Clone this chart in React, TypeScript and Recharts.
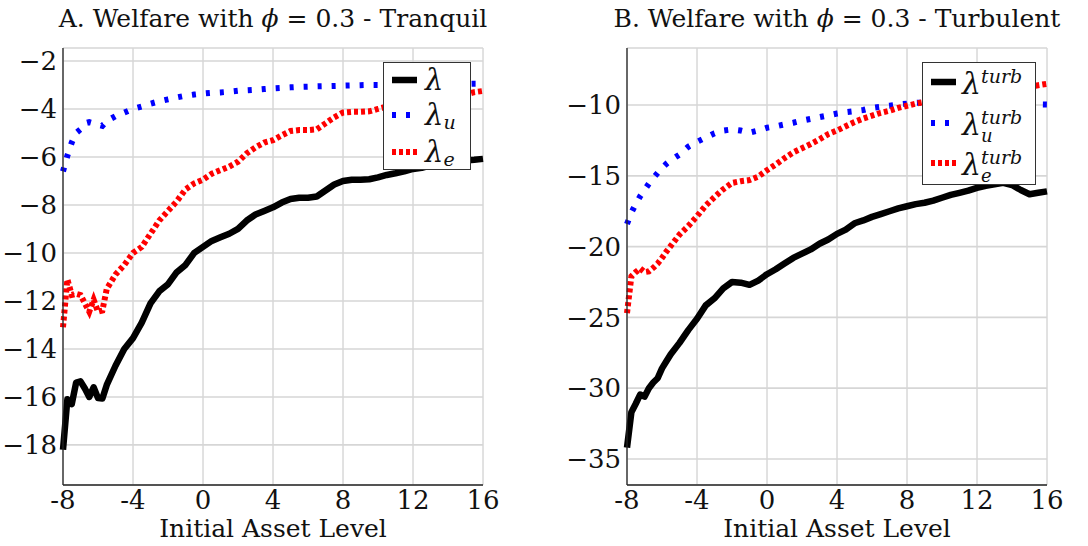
import React from "react";
import { LineChart, Line, XAxis, YAxis, CartesianGrid } from "recharts";

const assetLevels = [
  -8, -7.75, -7.5, -7.25, -7, -6.75, -6.5, -6.25, -6, -5.75, -5.5, -5, -4.5, -4, -3.5, -3, -2.5, -2,
  -1.5, -1, -0.5, 0, 0.5, 1, 1.5, 2, 2.5, 3, 3.5, 4, 4.5, 5, 5.5, 6, 6.5, 7, 7.5, 8, 8.5, 9, 9.5, 10,
  10.5, 11, 11.5, 12, 12.5, 13, 13.5, 14, 14.5, 15, 15.5, 16,
];

// Panel A, tranquil
const tranquilLambda = [
  -18.2, -16.1, -16.3, -15.4, -15.35, -15.65, -16.0, -15.6, -16.05, -16.07, -15.5, -14.7, -14.0, -13.55,
  -12.9, -12.1, -11.6, -11.3, -10.8, -10.5, -10.0, -9.75, -9.5, -9.35, -9.2, -9.0, -8.65, -8.4, -8.25,
  -8.1, -7.9, -7.75, -7.7, -7.7, -7.65, -7.4, -7.15, -7.0, -6.95, -6.95, -6.93, -6.85, -6.75, -6.68,
  -6.6, -6.5, -6.45, -6.35, -6.3, -6.25, -6.2, -6.15, -6.12, -6.08,
];
const tranquilLambdaU = [
  -6.6, -5.95, -5.4, -5.0, -4.85, -4.6, -4.55, -4.6, -4.65, -4.7, -4.5, -4.3, -4.15, -4.0, -3.9, -3.78,
  -3.68, -3.6, -3.52, -3.45, -3.4, -3.36, -3.33, -3.31, -3.28, -3.24, -3.22, -3.2, -3.17, -3.14, -3.12,
  -3.1, -3.08, -3.07, -3.06, -3.05, -3.04, -3.03, -3.02, -3.01, -3.0, -3.0, -3.0, -3.0, -2.99, -2.99,
  -2.98, -2.98, -2.97, -2.97, -2.96, -2.96, -2.95, -2.95,
];
const tranquilLambdaE = [
  -13.1, -11.1, -11.75, -11.7, -11.75, -12.1, -12.45, -11.95, -12.45, -12.4, -11.5, -10.9, -10.5, -10.0,
  -9.75, -9.2, -8.65, -8.25, -7.85, -7.35, -7.1, -6.95, -6.7, -6.55, -6.4, -6.2, -5.85, -5.6, -5.4, -5.3,
  -5.1, -4.92, -4.88, -4.88, -4.85, -4.6, -4.35, -4.15, -4.12, -4.12, -4.1, -4.0, -3.9, -3.85, -3.78,
  -3.7, -3.62, -3.55, -3.5, -3.48, -3.45, -3.4, -3.3, -3.25,
];

// Panel B, turbulent
const turbLambda = [
  -34.2, -31.7, -31.1, -30.45, -30.6, -30.0, -29.6, -29.3, -28.6, -28.1, -27.6, -26.8, -25.9, -25.1,
  -24.15, -23.65, -22.95, -22.5, -22.55, -22.7, -22.4, -21.95, -21.6, -21.2, -20.8, -20.5, -20.2, -19.8,
  -19.5, -19.1, -18.8, -18.35, -18.15, -17.9, -17.7, -17.5, -17.3, -17.15, -17.0, -16.9, -16.75, -16.55,
  -16.35, -16.2, -16.05, -15.85, -15.7, -15.6, -15.5, -15.65, -16.0, -16.3, -16.2, -16.1,
];
const turbLambdaU = [
  -18.4, -17.6, -17.0, -16.45, -16.0, -15.55, -15.15, -14.8, -14.45, -14.15, -13.9, -13.5, -12.95, -12.6,
  -12.3, -12.0, -11.8, -11.72, -11.8, -11.95, -11.8, -11.6, -11.5, -11.37, -11.25, -11.1, -10.98, -10.85,
  -10.73, -10.6, -10.5, -10.43, -10.35, -10.2, -10.12, -10.05, -9.97, -9.9, -9.85, -9.82, -9.82, -9.83,
  -9.85, -9.85, -9.86, -9.88, -9.9, -9.9, -9.92, -9.93, -9.94, -9.95, -9.96, -9.97,
];
const turbLambdaE = [
  -24.7, -22.1, -21.8, -21.55, -21.8, -21.75, -21.5, -21.2, -20.8, -20.35, -19.95, -19.15, -18.55, -17.85,
  -17.1, -16.5, -15.95, -15.5, -15.38, -15.3, -15.05, -14.6, -14.2, -13.75, -13.35, -13.05, -12.75,
  -12.42, -12.05, -11.8, -11.5, -11.2, -10.95, -10.75, -10.55, -10.4, -10.2, -10.05, -9.9, -9.78, -9.65,
  -9.55, -9.45, -9.35, -9.25, -9.18, -9.1, -9.02, -8.95, -8.88, -8.8, -8.7, -8.6, -8.5,
];

const xTicks = [-8, -4, 0, 4, 8, 12, 16];
const tranquilYTicks = [-18, -16, -14, -12, -10, -8, -6, -4, -2];
const turbYTicks = [-35, -30, -25, -20, -15, -10];

const FONT = '"DejaVu Serif", "Liberation Serif", serif';
const INK = "#111";

const makeRows = (a: number[], u: number[], e: number[]) =>
  assetLevels.map((x, i) => ({ x, lambda: a[i], lambdaU: u[i], lambdaE: e[i] }));

const tranquilRows = makeRows(tranquilLambda, tranquilLambdaU, tranquilLambdaE);
const turbRows = makeRows(turbLambda, turbLambdaU, turbLambdaE);

const minus = (v: number) => (v < 0 ? `\u2212${Math.abs(v)}` : `${v}`);

function Sample({ y, kind }: { y: number; kind: string }) {
  if (kind === "solid") return <line x1={9} x2={34} y1={y} y2={y} stroke="#000" strokeWidth={6.5} />;
  if (kind === "u")
    return <line x1={9} x2={34} y1={y} y2={y} stroke="#0000ff" strokeWidth={6} strokeDasharray="4 10" />;
  return <line x1={9} x2={34} y1={y} y2={y} stroke="#ff0000" strokeWidth={6} strokeDasharray="4 3" />;
}

function TranquilLegend() {
  const rows = [
    { c: 18, kind: "solid", sub: "" },
    { c: 53, kind: "u", sub: "u" },
    { c: 90, kind: "e", sub: "e" },
  ];
  return (
    <svg width={89} height={109} style={{ position: "absolute", left: 383, top: 62 }}>
      <rect x={0.5} y={0.5} width={87} height={107} fill="#fff" stroke="#333" strokeWidth={1} />
      {rows.map((r) => (
        <g key={r.kind}>
          <Sample y={r.c} kind={r.kind} />
          <text x={42} y={r.c + 10} fontSize={29} fontFamily={FONT} fill={INK} fontStyle="italic">
            λ
            {r.sub && (
              <tspan fontSize={19} dy={4}>
                {r.sub}
              </tspan>
            )}
          </text>
        </g>
      ))}
    </svg>
  );
}

function TurbLegend() {
  const rows = [
    { c: 20, kind: "solid", sub: "" },
    { c: 61, kind: "u", sub: "u" },
    { c: 101, kind: "e", sub: "e" },
  ];
  return (
    <svg width={115} height={124} style={{ position: "absolute", left: 922, top: 62 }}>
      <rect x={0.5} y={0.5} width={113} height={122} fill="#fff" stroke="#333" strokeWidth={1} />
      {rows.map((r) => (
        <g key={r.kind}>
          <Sample y={r.c} kind={r.kind} />
          <text x={40} y={r.c + 12} fontSize={30} fontFamily={FONT} fill={INK} fontStyle="italic">
            λ
            <tspan fontSize={19} dy={-11}>
              turb
            </tspan>
            {r.sub && (
              <tspan fontSize={18} x={59} dy={18}>
                {r.sub}
              </tspan>
            )}
          </text>
        </g>
      ))}
    </svg>
  );
}

function Panel({
  rows,
  left,
  yDomain,
  yTicks,
  yAxisWidth,
  marginRight,
}: {
  rows: { x: number; lambda: number; lambdaU: number; lambdaE: number }[];
  left: number;
  yDomain: [number, number];
  yTicks: number[];
  yAxisWidth: number;
  marginRight: number;
}) {
  const tickStyle = { fontFamily: FONT, fontSize: 26, fill: INK };
  return (
    <div style={{ position: "absolute", left, top: 0 }}>
      <LineChart width={544} height={546} data={rows} margin={{ top: 48, right: marginRight, bottom: 0, left: 0 }}>
        <CartesianGrid horizontal={false} stroke="#c4c4c4" strokeWidth={1} />
        <CartesianGrid vertical={false} stroke="#d6d6d6" strokeWidth={1.6} />
        <XAxis
          dataKey="x"
          type="number"
          domain={[-8, 16]}
          ticks={xTicks}
          height={61}
          tickLine={false}
          tickSize={6}
          tickMargin={0}
          axisLine={{ stroke: "#262626", strokeWidth: 1.3 }}
          tick={tickStyle}
          interval={0}
          label={{
            value: "Initial Asset Level",
            position: "insideBottom",
            offset: 9,
            style: { fontFamily: FONT, fontSize: 25, fill: INK },
          }}
        />
        <XAxis
          xAxisId="top"
          orientation="top"
          dataKey="x"
          type="number"
          domain={[-8, 16]}
          height={0}
          tick={false}
          tickLine={false}
          axisLine={{ stroke: "#262626", strokeWidth: 1.3 }}
        />
        <YAxis
          type="number"
          domain={yDomain}
          allowDataOverflow
          ticks={yTicks}
          width={yAxisWidth}
          tickLine={false}
          tickSize={6}
          tickMargin={0}
          interval={0}
          tickFormatter={minus}
          axisLine={{ stroke: "#262626", strokeWidth: 1.3 }}
          tick={tickStyle}
        />
        <YAxis
          yAxisId="right"
          orientation="right"
          type="number"
          domain={yDomain}
          width={0}
          tick={false}
          tickLine={false}
          axisLine={{ stroke: "#262626", strokeWidth: 1.3 }}
        />
        <Line
          type="linear"
          dataKey="lambda"
          stroke="#000"
          strokeWidth={6.5}
          strokeLinejoin="round"
          dot={false}
          isAnimationActive={false}
        />
        <Line
          type="linear"
          dataKey="lambdaU"
          stroke="#0000ff"
          strokeWidth={6}
          strokeDasharray="4 10"
          dot={false}
          isAnimationActive={false}
        />
        <Line
          type="linear"
          dataKey="lambdaE"
          stroke="#ff0000"
          strokeWidth={6}
          strokeDasharray="4 3"
          dot={false}
          isAnimationActive={false}
        />
      </LineChart>
    </div>
  );
}

function Title({ center, label, tail }: { center: number; label: string; tail: string }) {
  return (
    <div
      style={{
        position: "absolute",
        left: center - 300,
        width: 600,
        top: 4,
        textAlign: "center",
        fontFamily: FONT,
        fontSize: 25,
        lineHeight: "30px",
        color: INK,
        whiteSpace: "nowrap",
      }}
    >
      {label} Welfare with <i>ϕ</i> = 0.3 - {tail}
    </div>
  );
}

export default function App() {
  return (
    <div style={{ position: "absolute", left: 0, top: 0, width: 1088, height: 546, background: "#fff" }}>
      <Panel
        rows={tranquilRows}
        left={0}
        yDomain={[-19.67, -1.46]}
        yTicks={tranquilYTicks}
        yAxisWidth={63}
        marginRight={61}
      />
      <Panel
        rows={turbRows}
        left={544}
        yDomain={[-36.84, -5.97]}
        yTicks={turbYTicks}
        yAxisWidth={83}
        marginRight={41}
      />
      <Title center={273} label="A." tail="Tranquil" />
      <Title center={837} label="B." tail="Turbulent" />
      <TranquilLegend />
      <TurbLegend />
    </div>
  );
}
